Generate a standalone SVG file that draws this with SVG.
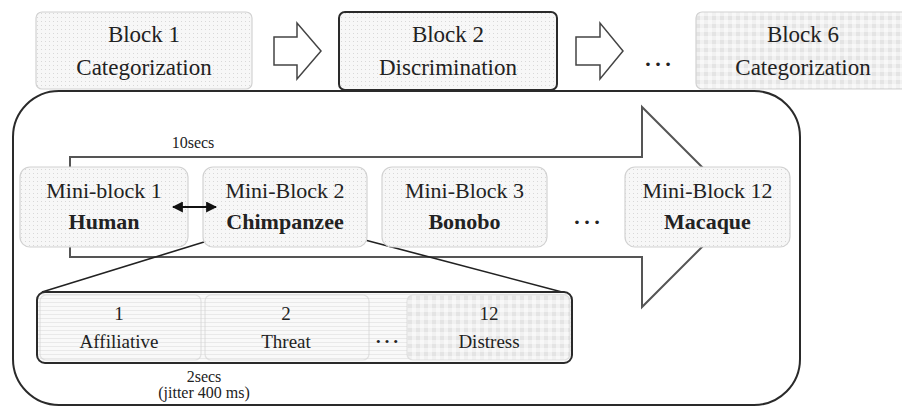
<svg xmlns="http://www.w3.org/2000/svg" width="902" height="407" viewBox="0 0 902 407">
<defs>
<pattern id="dots" width="4" height="4" patternUnits="userSpaceOnUse">
<rect width="4" height="4" fill="#f7f7f7"/>
<rect x="1" y="1" width="1" height="1" fill="#d8d8d8"/>
</pattern>
<pattern id="checker" width="8" height="8" patternUnits="userSpaceOnUse">
<rect width="8" height="8" fill="#f1f1f1"/>
<rect x="0" y="0" width="4" height="4" fill="#e4e4e4"/>
<rect x="4" y="4" width="4" height="4" fill="#f8f8f8"/>
</pattern>
<pattern id="hlines" width="4" height="4" patternUnits="userSpaceOnUse">
<rect width="4" height="4" fill="#f9f9f9"/>
<rect x="0" y="2" width="4" height="1" fill="#e9e9e9"/>
</pattern>
<marker id="ah" viewBox="0 0 10 10" refX="9" refY="5" markerWidth="5" markerHeight="5" orient="auto-start-reverse">
<path d="M0,0 L10,5 L0,10 z" fill="#111"/>
</marker>
</defs>
<style>
text{font-family:"Liberation Serif","Times New Roman",serif;fill:#222;text-anchor:middle}
.top{font-size:23px}
.mini{font-size:22px}
.b{font-weight:bold}
.item{font-size:19px}
.small{font-size:16px}
.lightbox{stroke:#d2d2d2;stroke-width:1.2}
.darkbox{stroke:#2a2a2a;stroke-width:2;}
.blockarrow{fill:#fff;stroke:#444;stroke-width:1.5}
.dbl{stroke:#111;stroke-width:2.2;fill:none;marker-start:url(#ah);marker-end:url(#ah)}
.line{stroke:#222;stroke-width:1.6;fill:none}
</style>

<g id="container">
<rect x="13" y="91" width="787" height="314" rx="46" fill="#fff" stroke="#2a2a2a" stroke-width="2"/>
</g>

<g id="block1">
<rect x="36" y="12" width="216" height="77" rx="6" fill="url(#dots)" class="lightbox"/>
<text class="top" x="144" y="42">Block 1</text>
<text class="top" x="144" y="75">Categorization</text>
</g>
<g id="block2">
<rect x="339" y="12" width="218" height="78" rx="6" fill="url(#dots)" class="darkbox"/>
<text class="top" x="448" y="42">Block 2</text>
<text class="top" x="448" y="75">Discrimination</text>
</g>
<g id="dots-top">
<text class="top" x="658" y="66" style="font-size:30px">…</text>
</g>
<g id="block6">
<rect x="696" y="12" width="216" height="77" rx="6" fill="url(#checker)" class="lightbox"/>
<text class="top" x="803" y="42">Block 6</text>
<text class="top" x="803" y="75">Categorization</text>
</g>

<g id="connectors">
<polygon class="blockarrow" points="274,37 297,37 297,23 321,51 297,79 297,65 274,65"/>
<polygon class="blockarrow" points="576,37 600,37 600,23 623,51 600,79 600,65 576,65"/>
<polygon points="70,157 642,157 642,107 742,207 642,307 642,257 70,257" fill="#fff" stroke="#555" stroke-width="2"/>
<line class="line" x1="204" y1="242" x2="42" y2="292"/>
<line class="line" x1="365" y1="240" x2="562" y2="292"/>
</g>

<g id="label-10secs">
<text class="small" x="193" y="148">10secs</text>
</g>

<g id="mini1">
<rect x="20" y="167" width="168" height="80" rx="10" fill="url(#dots)" class="lightbox"/>
<text class="mini" x="104" y="198">Mini-block 1</text>
<text class="mini b" x="104" y="229">Human</text>
</g>
<g id="mini2">
<rect x="203" y="167" width="164" height="80" rx="10" fill="url(#dots)" class="lightbox"/>
<text class="mini" x="285" y="198">Mini-Block 2</text>
<text class="mini b" x="285" y="229">Chimpanzee</text>
</g>
<g id="mini3">
<rect x="382" y="167" width="165" height="80" rx="10" fill="url(#dots)" class="lightbox"/>
<text class="mini" x="464.5" y="198">Mini-Block 3</text>
<text class="mini b" x="464.5" y="229">Bonobo</text>
</g>
<g id="dots-mini">
<text class="mini" x="587" y="224" style="font-size:30px">…</text>
</g>
<g id="mini12">
<rect x="625" y="167" width="165" height="80" rx="10" fill="url(#dots)" class="lightbox"/>
<text class="mini" x="707.5" y="198">Mini-Block 12</text>
<text class="mini b" x="707.5" y="229">Macaque</text>
</g>

<g id="arrows-dbl">
<line class="dbl" x1="173" y1="207" x2="216" y2="207"/>
<line class="dbl" x1="189" y1="331" x2="220" y2="331"/>
</g>

<g id="strip">
<rect x="37" y="292" width="535" height="71" rx="8" fill="url(#hlines)" class="darkbox"/>
</g>
<g id="item1">
<rect x="40" y="295" width="161" height="65" rx="6" fill="url(#hlines)" class="lightbox" stroke-opacity="0.6"/>
<text class="item" x="119" y="320">1</text>
<text class="item" x="119" y="348">Affiliative</text>
</g>
<g id="item2">
<rect x="205" y="295" width="164" height="65" rx="6" fill="url(#hlines)" class="lightbox" stroke-opacity="0.6"/>
<text class="item" x="286" y="320">2</text>
<text class="item" x="286" y="348">Threat</text>
</g>
<g id="dots-strip">
<text class="item" x="387" y="343" style="font-size:26px">…</text>
</g>
<g id="item12">
<rect x="407" y="295" width="163" height="65" rx="6" fill="url(#checker)" class="lightbox" stroke-opacity="0.6"/>
<text class="item" x="489" y="320">12</text>
<text class="item" x="489" y="348">Distress</text>
</g>
<g id="label-2secs">
<text class="small" x="204" y="382">2secs</text>
<text class="small" x="204" y="398">(jitter 400 ms)</text>
</g>
</svg>
